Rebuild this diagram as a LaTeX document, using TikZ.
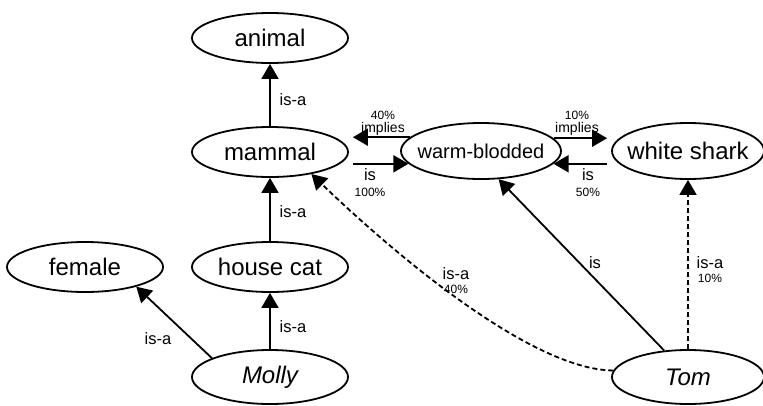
\documentclass[tikz,border=0pt]{standalone}
\usepackage{fontspec}
\setmainfont{Liberation Sans}
\usetikzlibrary{shapes.geometric,arrows.meta}
\newcommand{\ctext}[1]{\makebox[0pt]{#1}}
\begin{document}
\begin{tikzpicture}[x=1pt,y=-1pt,
  ell/.style={draw, line width=1.8pt, ellipse, minimum width=156pt, minimum height=50pt, inner sep=0pt, font=\fontsize{24}{28}\selectfont},
  arr/.style={line width=1.8pt, -{Triangle[length=15pt,width=17pt]}},
  dsh/.style={dash pattern=on 5pt off 3pt},
  lab/.style={inner sep=0pt, font=\fontsize{16.5}{18}\selectfont},
  pct/.style={inner sep=0pt, font=\fontsize{12}{13}\selectfont},
  imp/.style={inner sep=0pt, font=\fontsize{14}{15}\selectfont}]
\useasboundingbox (0,0) rectangle (763,405);
\node[ell] (animal) at (270,38) {\ctext{animal}};
\node[ell] (mammal) at (270,152) {\ctext{mammal}};
\node[ell] (housecat) at (270,267) {\ctext{house cat}};
\node[ell] (female) at (85,267) {\ctext{female}};
\node[ell, minimum height=54pt] (molly) at (270,377) {\ctext{\itshape Molly}};
\node[ell, minimum width=160pt, minimum height=56pt, font=\fontsize{20}{24}\selectfont] (warm) at (481,151) {\ctext{warm-blodded}};
\node[ell, minimum width=152pt, minimum height=56pt] (shark) at (688,151) {\ctext{white shark}};
\node[ell, minimum width=152pt, minimum height=54pt] (tom) at (688,377) {\ctext{\itshape Tom}};
% vertical is-a chain
\draw[arr] (mammal) -- (animal);
\node[lab] (l1) at (293,100) {is-a};
\draw[arr] (housecat) -- (mammal);
\node[lab] (l2) at (293,212) {is-a};
\draw[arr] (molly) -- (housecat);
\node[lab] (l3) at (293,327) {is-a};
\draw[arr] (molly.162) -- (female.-21);
\node[lab] (l4) at (158,339) {is-a};
% horizontal arrows
\draw[arr, shorten >=4pt] (warm.169.6) -- (warm.169.6 -| mammal.east);
\node[pct] (l5a) at (383,115) {40\%};
\node[imp] (l5b) at (383,129) {implies};
\draw[arr, shorten <=4pt] (warm.190.4 -| mammal.east) -- (warm.190.4);
\node[lab] (l6a) at (370,175) {is};
\node[pct] (l6b) at (370,192) {100\%};
\draw[arr, shorten >=4pt] (warm.10.4) -- (warm.10.4 -| shark.west);
\node[pct] (l7a) at (577,115) {10\%};
\node[imp] (l7b) at (577,129) {implies};
\draw[arr, shorten <=4pt] (warm.-10.4 -| shark.west) -- (warm.-10.4);
\node[lab] (l8a) at (588,175) {is};
\node[pct] (l8b) at (588,192) {50\%};
% Tom edges
\draw[arr, dsh] (tom.175) .. controls (530,370) and (390,250) .. (mammal.-28);
\node[lab] (l9a) at (456,274) {is-a};
\node[pct] (l9b) at (456,289) {40\%};
\draw[arr] (tom.132.8) -- (warm.-58);
\node[lab] (l10) at (595,263) {is};
\draw[arr, dsh] (tom) -- (shark);
\node[lab] (l11a) at (710,263) {is-a};
\node[pct] (l11b) at (710,278) {10\%};
\end{tikzpicture}
\end{document}
